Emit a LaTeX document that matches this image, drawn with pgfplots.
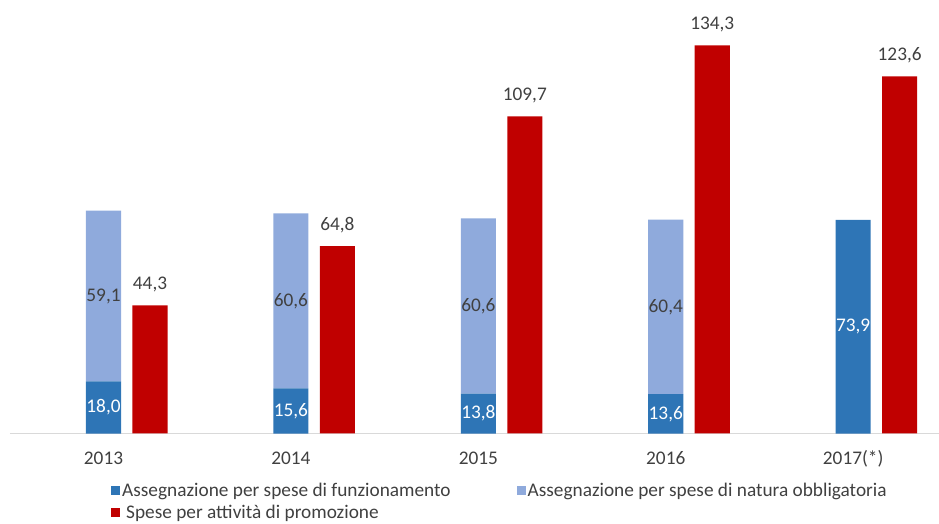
\documentclass[border=0pt]{standalone}
\usepackage{pgfplots}
\pgfplotsset{compat=1.18}
\usepackage{fontspec}
\setmainfont{Carlito}
\definecolor{cDark}{HTML}{2E75B6}
\definecolor{cLight}{HTML}{8FAADC}
\definecolor{cRed}{HTML}{C00000}
\definecolor{cText}{HTML}{404040}
\definecolor{cAxis}{HTML}{D9D9D9}
\pgfplotsset{
  base/.style={
    scale only axis, width=929pt, height=433.5pt,
    xmin=-0.499, xmax=4.458, ymin=0, ymax=150,
    font=\fontsize{19.3}{23}\selectfont,
  }
}
\begin{document}
\begin{tikzpicture}
\begin{axis}[base,
  ybar stacked, bar width=0.187, bar shift=0,
  axis x line=bottom, axis y line=none,
  x axis line style={-, draw=cAxis, line width=1.2pt},
  xtick={0,1,2,3,4}, xticklabels={2013,2014,2015,2016,2017(*)},
  major tick length=0pt,
  xticklabel style={text=cText, anchor=center, text height=12pt, text depth=3pt, yshift=-26pt},
  legend columns=2,
  legend cell align=left,
  legend style={at={(0.1055,-0.105)}, anchor=north west, draw=none, fill=none,
    font=\fontsize{19.3}{23}\selectfont, text=cText,
    nodes={inner sep=2pt},
    row sep=3pt,
    /tikz/every even column/.append style={column sep=64pt}},
  legend image code/.code={\fill[#1] (0pt,-4.5pt) rectangle (9pt,4.5pt);},
]
\addplot[fill=cDark, draw=none] coordinates {(0,18.0) (1,15.6) (2,13.8) (3,13.6) (4,73.9)};
\addlegendentry{Assegnazione per spese di funzionamento}
\addplot[fill=cLight, draw=none] coordinates {(0,59.1) (1,60.6) (2,60.6) (3,60.4) (4,0)};
\addlegendentry{Assegnazione per spese di natura obbligatoria}
\addlegendimage{fill=cRed, draw=none}
\addlegendentry{\hspace{4pt}Spese per attività di promozione}
\coordinate (O) at (rel axis cs:0,0);
\coordinate (T) at (rel axis cs:1,1);
\end{axis}
\begin{axis}[base, hide axis]
\addplot[ybar, bar width=0.187, bar shift=0.248, fill=cRed, draw=none,
  nodes near coords, point meta=explicit symbolic,
  every node near coord/.append style={text=cText, anchor=south, yshift=10pt, xshift=46.5pt}]
  coordinates {(0,44.3)[44,3] (1,64.8)[64,8] (2,109.7)[109,7] (3,134.3)[134,3] (4,123.6)[123,6]};
\addplot[draw=none, mark=none, nodes near coords, point meta=explicit symbolic,
  every node near coord/.append style={text=white, anchor=center}]
  coordinates {(0,9.0)[18,0] (1,7.8)[15,6] (2,6.9)[13,8] (3,6.8)[13,6] (4,36.95)[73,9]};
\addplot[draw=none, mark=none, nodes near coords, point meta=explicit symbolic,
  every node near coord/.append style={text=cText, anchor=center}]
  coordinates {(0,47.55)[59,1] (1,45.9)[60,6] (2,44.1)[60,6] (3,43.7)[60,4]};
\end{axis}
\pgfresetboundingbox
\useasboundingbox ([xshift=-10pt,yshift=-90.5pt]O) rectangle (T);
\end{tikzpicture}
\end{document}
